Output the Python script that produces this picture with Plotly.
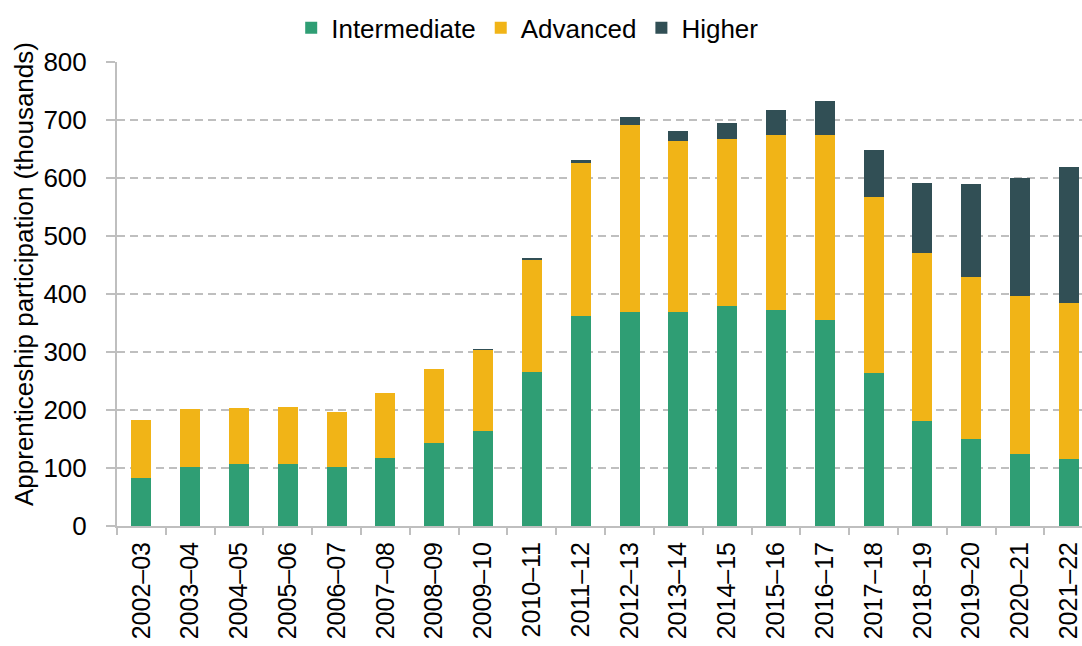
import plotly.graph_objects as go

years = ["2002–03", "2003–04", "2004–05", "2005–06", "2006–07", "2007–08",
         "2008–09", "2009–10", "2010–11", "2011–12", "2012–13", "2013–14",
         "2014–15", "2015–16", "2016–17", "2017–18", "2018–19", "2019–20",
         "2020–21", "2021–22"]

intermediate = [83, 102, 107, 107, 101, 118, 143, 164, 265, 362,
                369, 369, 379, 372, 355, 263, 181, 150, 124, 115]
advanced = [100, 99, 97, 98, 95, 111, 128, 140, 194, 264,
            322, 294, 288, 302, 320, 304, 290, 279, 272, 270]
higher = [0, 0, 0, 0, 0, 0, 0, 1, 3, 5,
          14, 18, 28, 43, 58, 81, 120, 161, 204, 234]

series = [
    ("Intermediate", intermediate, "#2f9e74"),
    ("Advanced", advanced, "#f1b417"),
    ("Higher", higher, "#314f55"),
]

font_family = "Liberation Sans, Arial, sans-serif"
fig = go.Figure()
for name, vals, color in series:
    fig.add_trace(go.Bar(
        name=name, x=years, y=vals, width=0.41,
        marker=dict(color=color, line=dict(width=0)),
    ))

fig.update_layout(
    barmode="stack",
    width=1082, height=646,
    margin=dict(l=117, r=0, t=62, b=120, autoexpand=False),
    plot_bgcolor="white", paper_bgcolor="white",
    font=dict(family=font_family, size=26, color="#000000"),
    legend=dict(orientation="h", x=0.4256, xanchor="center",
                yref="container", y=0.957, yanchor="middle",
                font=dict(size=26), itemwidth=30, traceorder="normal",
                tracegroupgap=0),
    showlegend=True,
)
fig.update_xaxes(
    type="category", range=[-0.5, 19.27],
    tickangle=-90, tickson="boundaries", ticks="outside", ticklen=7,
    tickcolor="#bfbfbf", tickwidth=2, ticklabelstandoff=4,
    showline=True, linecolor="#bfbfbf", linewidth=2,
    showgrid=False, tickfont=dict(size=25),
)
fig.update_yaxes(
    range=[0, 800], dtick=100, ticks="outside", ticklen=9,
    tickcolor="#bfbfbf", tickwidth=2, ticklabelstandoff=14,
    showline=True, linecolor="#bfbfbf", linewidth=2,
    showgrid=True, gridcolor="#bfbfbf", gridwidth=2, griddash="8px,5px",
    zeroline=False, tickfont=dict(size=26),
)
# Vertical axis title placed as an annotation in the left margin
fig.add_annotation(
    text="Apprenticeship participation (thousands)",
    xref="paper", yref="paper", x=-0.0964, y=0.543,
    xanchor="center", yanchor="middle", textangle=-90,
    showarrow=False, font=dict(size=26),
)

fig.write_html("out.html")
